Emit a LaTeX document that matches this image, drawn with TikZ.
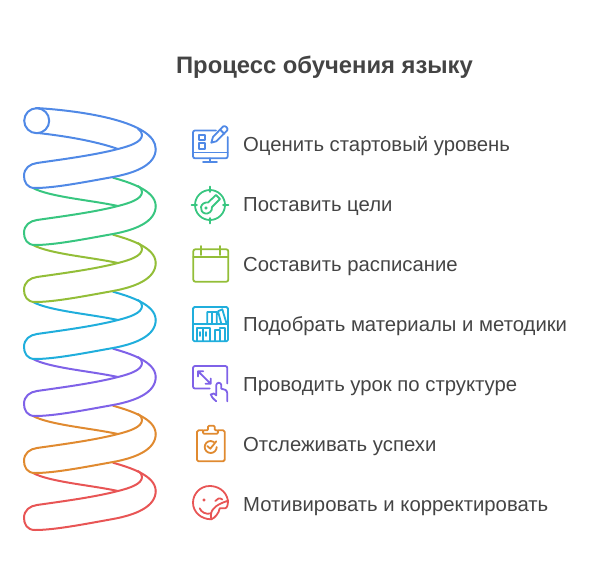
\documentclass[tikz,border=0pt]{standalone}
\usepackage{fontspec}
\setmainfont{Liberation Sans}
\definecolor{coilblue}{HTML}{5089E6}
\definecolor{coilgreen}{HTML}{38C680}
\definecolor{coilolive}{HTML}{93BE38}
\definecolor{coilcyan}{HTML}{20AEDC}
\definecolor{coilpurple}{HTML}{7F62E8}
\definecolor{coilorange}{HTML}{E08A30}
\definecolor{coilred}{HTML}{E85555}
\definecolor{textgray}{HTML}{444444}

\begin{document}
\begin{tikzpicture}[x=1pt,y=-1pt,
    line/.style={line width=2pt,line cap=round,line join=round},
    icon/.style={line width=1.8pt,line cap=round,line join=round},
    steptext/.style={anchor=base west,inner sep=0pt,text=textgray,font=\fontsize{20.3}{24}\selectfont},
    coilfront/.pic={
        \draw[line] (155.7,149) .. controls (155.7,165) and (135,173) .. (113,177)
            .. controls (85,182) and (55,188) .. (35,188)
            .. controls (27,188) and (24,182) .. (24,176)
            .. controls (24,168) and (30,164) .. (37,163)
            .. controls (65,159) and (95,155) .. (118,149)
            .. controls (130,146) and (142,142) .. (142,135)
            .. controls (142,133) and (141,131) .. (138,129);
    },
    coil/.pic={
        \draw[line] (113,120.7) .. controls (128,125) and (155.7,133) .. (155.7,149);
        \draw[line] (33,131) .. controls (50,140) and (90,143) .. (118,149);
        \pic {coilfront};
    }]
\useasboundingbox (0,0) rectangle (601,580);

\pic[coilred] at (0,342) {coil};
\pic[coilorange] at (0,285) {coil};
\pic[coilpurple] at (0,228) {coil};
\pic[coilcyan] at (0,171) {coil};
\pic[coilolive] at (0,114) {coil};
\pic[coilgreen] at (0,57) {coil};
\pic[coilblue] at (0,0) {coilfront};
\draw[line,coilblue] (36.7,120.7) circle (12.5);
\draw[line,coilblue] (36,108) .. controls (85,111) and (155.7,122) .. (155.7,149);
\draw[line,coilblue] (38,133) .. controls (65,136) and (95,141) .. (118,149);

\node[anchor=center,inner sep=0pt,text=textgray,font=\fontsize{23.8}{28}\bfseries\selectfont] (title) at (324.5,67) {Процесс обучения языку};

\node[steptext] (assess) at (243,151) {Оценить стартовый уровень};
\node[steptext] (goals) at (243,211) {Поставить цели};
\node[steptext] (schedule) at (243,271) {Составить расписание};
\node[steptext] (materials) at (243,331) {Подобрать материалы и методики};
\node[steptext] (lesson) at (243,391) {Проводить урок по структуре};
\node[steptext] (progress) at (243,451) {Отслеживать успехи};
\node[steptext] (motivate) at (243,511) {Мотивировать и корректировать};

\draw[icon,coilblue,rounded corners=2pt] (216,130.5) -- (193,130.5) -- (193,158.3) -- (227.7,158.3) -- (227.7,137);
\draw[icon,coilblue] (193,152.5) -- (227.7,152.5) (210,158.3) -- (210,162) (203,162) -- (217,162);
\draw[icon,coilblue] (199,135.3) rectangle (204.7,140.3) (199,142.7) rectangle (204.7,148.7);
\draw[icon,coilblue] (211.3,142.7) -- (213,137) -- (223,126.5) .. controls (225,125) and (228.5,128) .. (227.3,130.3) -- (216.3,141.3) -- cycle (220,129.5) -- (224.5,134);

\draw[icon,coilgreen] (210,205) circle (15);
\draw[icon,coilgreen] (210,186.5) -- (210,192) (210,218) -- (210,223.5) (191.5,205) -- (197,205) (223,205) -- (228.5,205);
\draw[icon,coilgreen] (208,202.5) -- (216,195) -- (220,199) -- (212,207) .. controls (212.5,212) and (208,214) .. (205.5,213.5) .. controls (202,213) and (200.5,210) .. (201,207) .. controls (201.5,204) and (205,202) .. (208,202.5) -- cycle;
\draw[icon,coilgreen] (206,208) circle (0.8);

\draw[icon,coilolive,rounded corners=2pt] (193.3,249.3) rectangle (228.3,281.7);
\draw[icon,coilolive] (193.3,256.7) -- (228.3,256.7) (201,246) -- (201,255) (220,246) -- (220,255);

\draw[icon,coilcyan,rounded corners=1.5pt] (193,307) rectangle (228,341.3);
\draw[icon,coilcyan] (193,323.7) -- (228,323.7);
\draw[icon,coilcyan] (207.3,323.7) -- (207.3,312) -- (216.7,312) -- (216.7,323.7) (212,312) -- (212,323.7) (218,311.3) -- (222.3,309.3) -- (226.3,322.7) (218,311.3) -- (221.3,323.7);
\draw[icon,coilcyan] (197.3,341) -- (197.3,328) -- (209.7,328) -- (209.7,341) (202.7,328) -- (202.7,341) (200,332) -- (200,336) (206.3,332) -- (206.3,336);
\draw[icon,coilcyan] (214.7,341) -- (214.7,330.3) -- (219.7,330.3) -- (219.7,341) (219.7,328) -- (224.7,328) -- (224.7,341);

\draw[icon,coilpurple,rounded corners=2pt] (209.7,388.5) -- (193,388.5) -- (193,366) -- (227.3,366) -- (227.3,383.5);
\draw[icon,coilpurple] (198,371.3) -- (210.7,383.7) (198,376.5) -- (198,371.3) -- (203.2,371.3) (210.7,378.5) -- (210.7,383.7) -- (205.5,383.7);
\draw[icon,coilpurple] (216.3,401.3) .. controls (213,398.5) and (211,396.5) .. (210.8,394.5) .. controls (212.5,392.5) and (215,393.5) .. (216.3,395.3) -- (216.3,385) .. controls (216.8,382) and (220.8,382) .. (221.3,385) -- (221.3,388.7) .. controls (224,388.7) and (227.3,390) .. (227.3,393.5) -- (227.3,401.3);

\draw[icon,coilorange,rounded corners=1.5pt] (203,430.3) -- (197,430.3) -- (197,461.3) -- (224.7,461.3) -- (224.7,430.3) -- (218,430.3);
\draw[icon,coilorange,rounded corners=1pt] (203,433.7) -- (203,430.3) -- (208,430.3) -- (208,425.8) -- (214.7,425.8) -- (214.7,430.3) -- (218,430.3) -- (218,433.7) -- cycle;
\draw[icon,coilorange] (214,442) .. controls (213,441.3) and (212,441) .. (210.7,441) .. controls (207.4,441) and (204.7,443.7) .. (204.7,447) .. controls (204.7,450.3) and (207.4,453) .. (210.7,453) .. controls (214,453) and (216.7,450.3) .. (216.7,447);
\draw[icon,coilorange] (207.3,446) -- (210.3,448.7) -- (216.3,441.3);

\draw[icon,coilred] (228,500.7) .. controls (226,490) and (217,486) .. (209.7,486) .. controls (200,486) and (193,494) .. (193,502.7) .. controls (193,512) and (201,519.3) .. (211.3,519.3);
\draw[icon,coilred] (228,500.7) .. controls (228,505) and (227,508.3) .. (225,508.3) .. controls (223,508.3) and (221,508) .. (219.7,508.3) .. controls (219,513) and (215,518) .. (211.3,519.3) .. controls (210,514) and (211.5,510.5) .. (214,508.3) .. controls (216,505.5) and (221,503) .. (228,500.7);
\draw[icon,coilred] (215.3,501) .. controls (216.5,498.5) and (220,497.5) .. (222.3,499.5);
\draw[icon,coilred] (204,500) circle (0.7);
\draw[icon,coilred] (199.7,508.3) .. controls (201,512) and (206,515) .. (211.3,513.3);
\end{tikzpicture}
\end{document}
